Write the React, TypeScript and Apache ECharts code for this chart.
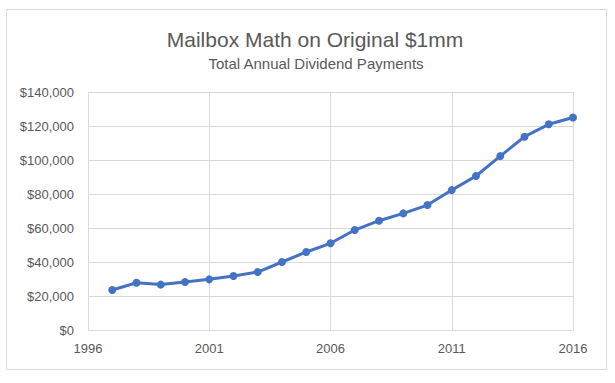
import React, { useEffect, useRef } from "react";
import * as echarts from "echarts";

const years = [1997, 1998, 1999, 2000, 2001, 2002, 2003, 2004, 2005, 2006, 2007, 2008, 2009, 2010, 2011, 2012, 2013, 2014, 2015, 2016];
const dividends = [23500, 27800, 26700, 28200, 29800, 31800, 34100, 40000, 45900, 51000, 58800, 64300, 68600, 73500, 82300, 90600, 102300, 113700, 121000, 125000];
const titleText = "Mailbox Math on Original $1mm";
const subtitleText = "Total Annual Dividend Payments";

const FONT = "'Liberation Sans', Arial, sans-serif";
const TEXT = "#595959";

export default function App() {
  const ref = useRef<HTMLDivElement>(null);
  useEffect(() => {
    if (!ref.current) return;
    const chart = echarts.init(ref.current, undefined, { renderer: "svg" });
    chart.setOption({
      animation: false,
      backgroundColor: "#ffffff",
      textStyle: { fontFamily: FONT },
      title: [
        {
          text: titleText,
          left: 310,
          top: 24,
          textAlign: "center",
          textStyle: { fontFamily: FONT, fontSize: 21, fontWeight: "normal", color: TEXT },
        },
        {
          text: subtitleText,
          left: 311,
          top: 51,
          textAlign: "center",
          textStyle: { fontFamily: FONT, fontSize: 15, fontWeight: "normal", color: TEXT },
        },
      ],
      graphic: [
        {
          type: "rect",
          shape: { x: 6.5, y: 9.5, width: 600, height: 360 },
          style: { fill: "none", stroke: "#d9d9d9", lineWidth: 1 },
          silent: true,
        },
      ],
      grid: { left: 88, right: 42, top: 92, bottom: 53, containLabel: false },
      xAxis: {
        type: "value",
        min: 1996,
        max: 2016,
        interval: 5,
        axisLine: { show: true, lineStyle: { color: "#d9d9d9" } },
        axisTick: { show: false },
        splitLine: { show: true, lineStyle: { color: "#d9d9d9" } },
        axisLabel: { color: TEXT, fontSize: 13, fontFamily: FONT, margin: 12, formatter: (v: number) => String(v) },
      },
      yAxis: {
        type: "value",
        min: 0,
        max: 140000,
        interval: 20000,
        axisLine: { show: false },
        axisTick: { show: false },
        splitLine: { show: true, lineStyle: { color: "#d9d9d9" } },
        axisLabel: {
          color: TEXT,
          fontSize: 13,
          fontFamily: FONT,
          margin: 14,
          formatter: (v: number) => "$" + v.toLocaleString("en-US"),
        },
      },
      series: [
        {
          type: "line",
          data: years.map((y, i) => [y, dividends[i]]),
          symbol: "circle",
          symbolSize: 8,
          lineStyle: { color: "#4472C4", width: 3 },
          itemStyle: { color: "#4472C4" },
        },
      ],
    });
    return () => chart.dispose();
  }, []);
  return (
    <div
      ref={ref}
      style={{ position: "fixed", left: 0, top: 0, width: 615, height: 383, background: "#fff" }}
    />
  );
}
